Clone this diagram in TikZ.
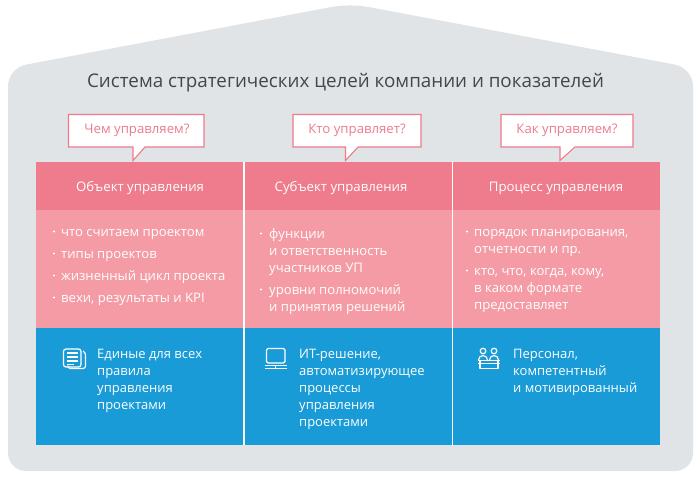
\documentclass[tikz,border=0pt]{standalone}
\usepackage{fontspec}
\setmainfont{Open Sans}
\usepackage{xcolor}
\usetikzlibrary{positioning,calc}
\definecolor{housegray}{HTML}{E1E4E6}
\definecolor{headpink}{HTML}{EE7C8C}
\definecolor{bodypink}{HTML}{F49BA5}
\definecolor{cellblue}{HTML}{189BD7}
\definecolor{titlegray}{HTML}{3F484E}
\tikzset{
    headcell/.style={text=white, font=\fontsize{13.2}{16}\selectfont},
    callout/.style={draw=headpink, line width=1.1pt, fill=white, line join=miter},
    asktext/.style={text=headpink, font=\fontsize{13.2}{16}\selectfont},
    itemtext/.style={text=white, anchor=base west, inner sep=0pt, font=\fontsize{13.1}{16}\selectfont},
    bluetext/.style={text=white, anchor=north west, inner sep=0pt, align=left, font=\fontsize{13}{17}\selectfont},
    dotmark/.style={circle, fill=white, inner sep=0pt, minimum size=2.4pt},
    iconline/.style={draw=white, line width=1.2pt, line join=round}
}
\begin{document}
\begin{tikzpicture}[x=1pt, y=-1pt]
    \useasboundingbox (0,0) rectangle (700,478);
    % house
    \fill[housegray, rounded corners=18pt] (8,68) -- (350,3.5) -- (693,68) -- (693,471) -- (8,471) -- cycle;
    \node[text=titlegray, font=\fontsize{18.8}{24}\selectfont] (title) at (345.5,83) {Система стратегических целей компании и показателей};

    % columns
    \fill[headpink] (36,162) rectangle (660,210);
    \fill[bodypink] (36,210) rectangle (660,328);
    \fill[cellblue] (36,328) rectangle (660,444.5);
    \draw[white, line width=1.2pt] (244,162) -- (244,444.5);
    \draw[white, line width=1.2pt] (452.5,162) -- (452.5,444.5);

    % callouts
    \draw[callout] (68.5,114.5) -- (204,114.5) -- (204,147) -- (145,147) -- (133,160.5) -- (133,147) -- (68.5,147) -- cycle;
    \draw[callout] (293,114.5) -- (421,114.5) -- (421,147) -- (358,147) -- (345.5,160.5) -- (345.5,147) -- (293,147) -- cycle;
    \draw[callout] (501,114.5) -- (633,114.5) -- (633,147) -- (575,147) -- (560,160.5) -- (560,147) -- (501,147) -- cycle;
    \node[asktext] (ask1) at (137,130.5) {Чем управляем?};
    \node[asktext] (ask2) at (357,130.5) {Кто управляет?};
    \node[asktext] (ask3) at (567,130.5) {Как управляем?};

    \node[headcell] (head1) at (140,188.5) {Объект управления};
    \node[headcell] (head2) at (341,188.5) {Субъект управления};
    \node[headcell] (head3) at (556,188.5) {Процесс управления};

    % first column
    \foreach \y/\t in {236/что считаем проектом, 258/типы проектов, 280/жизненный цикл проекта, 302/вехи{,} результаты и KPI}
        \node[itemtext] at (61,\y) {\t};
    \foreach \y in {231.5,253.5,275.5,297.5}
        \node[dotmark] at (54,\y) {};

    % second column
    \foreach \y/\t in {238/функции, 255/и ответственность, 272/участников УП, 294/уровни полномочий, 311/и принятия решений}
        \node[itemtext] at (269,\y) {\t};
    \foreach \y in {233.5,289.5}
        \node[dotmark] at (261,\y) {};

    % third column
    \foreach \y/\t in {236/порядок планирования{,}, 253/отчетности и пр., 275/кто{,} что{,} когда{,} кому{,}, 292/в каком формате, 309/предоставляет}
        \node[itemtext] at (474,\y) {\t};
    \foreach \y in {231.5,270.5}
        \node[dotmark] at (467,\y) {};

    % blue row
    \node[bluetext] (rule) at (97,349.5) {Единые для всех\\правила\\управления\\проектами};
    \node[bluetext] (tool) at (299,349.5) {ИТ-решение,\\автоматизирующее\\процессы\\управления\\проектами};
    \node[bluetext] (team) at (513,349.5) {Персонал,\\компетентный\\и мотивированный};

    % document icon
    \draw[iconline, rounded corners=2.5pt] (63.5,349) rectangle (81,367);
    \draw[iconline, rounded corners=2.5pt] (83,351) -- (85.5,352.5) -- (85.5,368.5) -- (68,368.5) -- (68,367);
    \foreach \y in {353,357,361}
        \draw[iconline] (67,\y) -- (77.5,\y);
    \draw[iconline] (67,364.5) -- (74,364.5);

    % monitor icon
    \draw[iconline, rounded corners=1.5pt] (266.5,348.5) rectangle (285,363);
    \draw[iconline] (265,365.5) -- (286.5,365.5);
    \draw[iconline] (265,368.5) -- (286.5,368.5);
    \draw[iconline] (275.5,365.5) -- (275.5,368.5);

    % people icon
    \draw[iconline] (483,351) circle (2.8pt);
    \draw[iconline] (494,351) circle (2.8pt);
    \draw[iconline] (478.5,360) arc (180:360:4.5pt and -4.5pt);
    \draw[iconline] (489.5,360) arc (180:360:4.5pt and -4.5pt);
    \draw[iconline] (477.5,360.5) -- (500,360.5);
    \draw[iconline] (480,360.5) -- (480,368.5) -- (498,368.5) -- (498,360.5);
    \draw[iconline] (477.5,363.5) -- (500,363.5);
\end{tikzpicture}
\end{document}
